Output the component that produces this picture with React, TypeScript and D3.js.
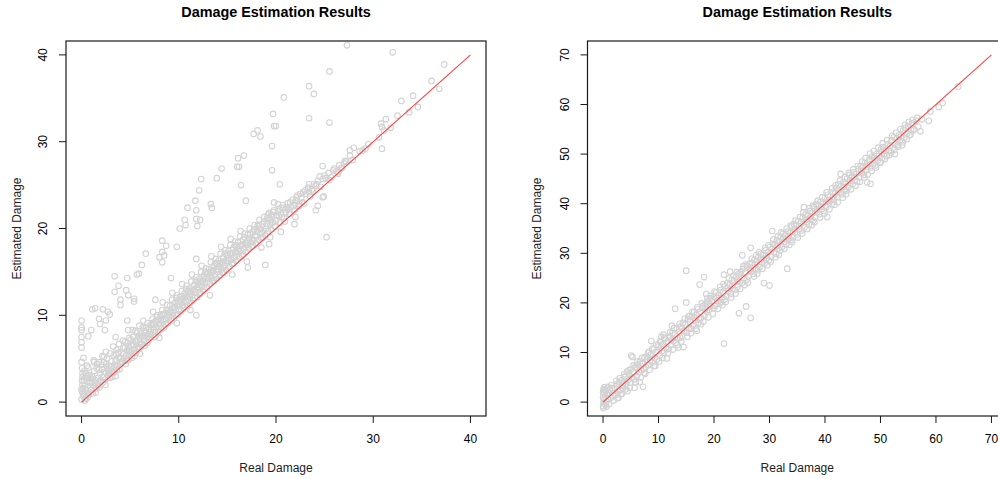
import React from "react";
import * as d3 from "d3";

const TITLE = "Damage Estimation Results";
const X_LABEL = "Real Damage";
const Y_LABEL = "Estimated Damage";

const ticksLeft = [0, 10, 20, 30, 40];
const ticksRight = [0, 10, 20, 30, 40, 50, 60, 70];
const limLeft = [0, 40];
const limRight = [0, 70];

// [real, estimated]
const bandLeft: [number, number][] = [
  [0.0,0.3],[0.05,1.2],[0.1,2.0],[0.15,0.7],[0.1,2.9],[0.3,3.6],[0.05,3.9],[0.4,1.5],[0.5,0.8],[0.6,2.4],[0.7,1.1],[0.8,3.1],[0.9,1.8],[0.35,0.2],[0.55,4.2],[0.25,2.5],[0.75,0.9],[0.95,2.7],[0.45,3.3],[0.15,1.6],[0.0,4.6],[0.2,5.1],[0.6,0.5],[0.0,1.5],[0.05,2.5],[0.3,0.9],
  [1.0,1.4],[1.1,2.9],[1.2,1.9],[1.3,3.6],[1.4,2.2],[1.5,1.6],[1.6,4.4],[1.7,2.8],[1.8,2.0],[1.9,3.3],[1.25,4.8],[1.55,3.9],[1.85,1.7],[1.05,2.3],[1.45,1.1],[1.75,3.7],
  [2.0,2.4],[2.1,3.8],[2.2,2.9],[2.3,4.6],[2.4,2.6],[2.5,3.4],[2.6,5.0],[2.7,3.1],[2.8,4.2],[2.9,2.8],[2.35,3.5],[2.65,4.0],[2.95,5.6],[2.15,5.3],[2.45,2.0],[2.75,3.6],
  [3.0,3.3],[3.1,4.7],[3.2,3.5],[3.3,5.4],[3.4,4.0],[3.5,4.8],[3.6,6.0],[3.7,4.2],[3.8,5.1],[3.9,3.8],[3.25,6.4],[3.55,5.5],[3.85,6.7],[3.45,4.3],[3.15,2.9],[3.65,3.7],
  [4.0,4.4],[4.1,5.7],[4.2,4.7],[4.3,6.2],[4.4,5.1],[4.5,7.0],[4.6,5.3],[4.7,6.0],[4.8,4.9],[4.9,7.4],[4.25,7.1],[4.55,4.4],[4.75,6.8],[4.95,5.8],[4.35,5.5],[4.85,6.4],
  [5.0,5.6],[5.1,6.5],[5.2,5.1],[5.3,7.5],[5.4,6.1],[5.5,7.0],[5.6,5.7],[5.7,8.0],[5.8,6.4],[5.9,7.6],[5.25,8.3],[5.65,6.9],[5.45,5.3],[5.95,8.8],[5.05,7.2],[5.75,7.2],
  [6.0,6.3],[6.1,7.9],[6.2,6.7],[6.3,8.6],[6.4,7.0],[6.5,6.5],[6.6,8.0],[6.7,7.5],[6.8,9.1],[6.9,7.2],[6.35,9.4],[6.75,6.8],[6.55,7.7],[6.95,8.4],[6.05,7.3],[6.45,8.2],
  [7.0,7.5],[7.1,8.9],[7.2,7.9],[7.3,9.6],[7.4,8.3],[7.5,7.5],[7.6,9.3],[7.7,8.6],[7.8,10.0],[7.9,8.1],[7.35,10.4],[7.65,7.7],[7.85,9.5],[7.15,8.4],[7.45,9.0],[7.95,9.0],
  [8.0,8.7],[8.1,9.9],[8.2,8.4],[8.3,10.6],[8.4,9.3],[8.5,8.6],[8.6,10.2],[8.7,9.5],[8.8,11.2],[8.9,9.1],[8.35,11.5],[8.65,9.0],[8.85,10.1],[8.15,9.5],[8.45,10.0],[8.95,10.6],
  [9.0,9.8],[9.1,11.1],[9.2,9.4],[9.3,11.8],[9.4,10.3],[9.5,9.7],[9.6,11.4],[9.7,10.6],[9.8,12.3],[9.9,10.1],[9.35,12.6],[9.65,10.0],[9.85,11.1],[9.15,10.5],[9.45,10.9],[9.95,11.6],
  [10.0,10.7],[10.1,12.1],[10.2,10.5],[10.3,12.8],[10.4,11.2],[10.5,10.8],[10.6,12.5],[10.7,11.6],[10.8,13.4],[10.9,11.1],[10.35,13.6],[10.65,11.0],[10.85,12.2],[10.15,11.5],[10.45,11.9],[10.95,12.7],
  [11.0,11.8],[11.1,13.1],[11.2,11.4],[11.3,13.9],[11.4,12.3],[11.5,11.7],[11.6,13.5],[11.7,12.7],[11.8,14.4],[11.9,12.1],[11.35,14.7],[11.65,12.0],[11.85,13.2],[11.15,12.5],[11.45,12.9],[11.95,13.7],
  [12.0,12.9],[12.1,14.2],[12.2,12.5],[12.3,15.0],[12.4,13.3],[12.5,12.8],[12.6,14.6],[12.7,13.7],[12.8,15.4],[12.9,13.2],[12.35,15.7],[12.65,13.0],[12.85,14.3],[12.15,13.5],[12.45,13.9],[12.95,14.8],
  [13.0,13.9],[13.1,15.3],[13.2,13.6],[13.3,16.1],[13.4,14.3],[13.5,13.9],[13.6,15.7],[13.7,14.7],[13.8,16.5],[13.9,14.2],[13.35,16.8],[13.65,14.0],[13.85,15.3],[13.15,14.5],[13.45,15.0],[13.95,15.9],
  [14.0,15.0],[14.1,16.3],[14.2,14.6],[14.3,17.1],[14.4,15.3],[14.5,14.9],[14.6,16.7],[14.7,15.7],[14.8,17.5],[14.9,15.2],[14.35,17.9],[14.65,15.0],[14.85,16.3],[14.15,15.6],[14.45,16.0],[14.95,16.9],
  [15.0,16.0],[15.1,17.4],[15.2,15.6],[15.3,18.1],[15.4,16.4],[15.5,15.9],[15.6,17.7],[15.7,16.7],[15.8,18.5],[15.9,16.3],[15.35,18.8],[15.65,16.0],[15.85,17.3],[15.15,16.6],[15.45,17.0],[15.95,17.9],
  [16.0,17.1],[16.1,18.4],[16.2,16.7],[16.3,19.1],[16.4,17.4],[16.5,16.9],[16.6,18.7],[16.7,17.7],[16.8,19.4],[16.9,17.3],[16.35,19.7],[16.65,17.0],[16.85,18.3],[16.15,17.6],[16.45,18.0],
  [17.0,18.1],[17.1,19.3],[17.2,17.7],[17.3,20.0],[17.4,18.4],[17.5,17.9],[17.6,19.6],[17.7,18.7],[17.8,20.4],[17.9,18.3],[17.65,18.0],[17.85,19.2],[17.25,18.9],
  [18.0,19.1],[18.1,20.3],[18.2,18.7],[18.3,21.0],[18.4,19.4],[18.5,18.9],[18.6,20.5],[18.7,19.7],[18.8,21.3],[18.9,19.2],[18.65,19.0],[18.35,20.0],
  [19.0,20.0],[19.1,21.2],[19.2,19.7],[19.3,21.8],[19.4,20.4],[19.5,19.9],[19.6,21.5],[19.7,20.7],[19.8,22.1],[19.9,20.2],[19.45,21.0],
  [20.0,20.9],[20.2,22.0],[20.4,20.7],[20.5,21.6],[20.7,22.7],[20.8,21.2],[20.9,20.8],[20.3,21.4],
  [21.0,21.9],[21.2,22.9],[21.4,21.7],[21.5,22.5],[21.7,23.3],[21.9,22.1],[21.3,22.2],
  [22.0,22.9],[22.2,23.8],[22.4,22.6],[22.6,23.5],[22.8,24.2],[22.9,22.9],
  [23.1,24.0],[23.3,24.7],[23.5,23.7],[23.7,24.5],[23.9,25.1],
  [24.1,24.9],[24.3,25.5],[24.6,24.8],[24.8,25.7],
  [25.1,25.8],[25.4,26.4],[25.7,25.9],[25.9,26.7],
  [26.2,26.6],[26.5,27.3],[26.8,27.0],
  [27.2,27.7],[27.6,28.4],[27.9,27.9],
  [13.2,12.3],[15.5,14.7],[9.8,9.1],[6.0,5.6],[20.5,19.6],[22.0,21.3],[24.8,23.6],[17.0,16.2],[11.2,10.6],[3.5,3.0],[8.0,7.4],[18.5,17.8]
];

const bandLeftFill: [number, number][] = [
  [0.2,0.9],[0.3,1.9],[0.45,0.4],[0.65,3.0],[0.85,2.2],[1.15,1.0],[1.35,2.6],[1.65,1.9],[1.95,2.5],[2.05,4.3],[2.25,2.3],[2.55,4.4],[2.85,3.3],[3.05,4.1],[3.35,3.4],[3.75,5.7],[3.95,4.6],[4.05,5.0],[4.45,6.3],[4.65,4.8],
  [4.9,6.0],[5.15,5.9],[5.35,6.6],[5.55,8.2],[5.85,6.1],[6.15,6.6],[6.25,7.6],[6.65,8.6],[6.85,7.7],[7.05,8.1],[7.25,9.1],[7.55,8.1],[7.75,9.8],[8.05,9.1],[8.25,10.1],[8.55,9.5],[8.75,10.6],[9.05,10.3],[9.25,10.0],[9.55,11.0],
  [9.75,12.0],[10.05,11.1],[10.25,11.8],[10.55,12.1],[10.75,13.0],[11.05,12.2],[11.25,12.8],[11.55,13.0],[11.75,14.0],[12.05,13.2],[12.25,13.9],[12.55,14.2],[12.75,15.0],[13.05,14.2],[13.25,15.0],[13.55,15.2],[13.75,16.0],[14.05,15.3],[14.25,16.0],[14.55,16.2],
  [14.75,17.1],[15.05,16.3],[15.25,17.1],[15.55,17.2],[15.75,18.1],[16.05,17.4],[16.25,18.0],[16.55,18.2],[16.75,19.0],[17.05,18.5],[17.35,19.3],[17.55,18.6],[17.75,19.9],[18.05,19.6],[18.25,20.4],[18.55,19.5],[18.75,20.8],[19.05,20.5],[19.25,21.2],[19.55,20.6],
  [19.75,21.9],[20.1,21.5],[20.35,22.3],[20.6,21.3],[20.95,22.2],[21.1,22.4],[21.45,23.0],[21.8,22.6],[22.1,23.3],[22.5,24.0],[22.7,23.0],[23.0,24.4],[23.4,24.2],[23.8,24.3],[24.2,25.1],[24.5,26.0],[25.0,26.1],[25.5,25.6],[26.0,26.9],[26.4,26.3],
  [27.0,27.5],[0.1,3.3],[0.4,2.8],[0.7,4.0]
];

const outliersLeft: [number, number][] = [
  [19.7,33.2],[19.8,31.8],[17.7,30.9],[18.1,31.3],[18.4,30.6],[19.6,29.5],[16.1,28.1],[16.7,28.4],[16.0,27.1],[16.2,27.1],
  [14.4,26.9],[13.9,25.8],[12.3,25.7],[12.1,24.4],[16.4,25.0],[19.6,26.7],[16.9,23.2],[11.7,23.2],[13.3,22.8],[13.4,22.4],
  [10.9,22.4],[11.8,22.1],[10.6,21.0],[10.7,20.4],[11.8,21.1],[12.2,21.0],[11.9,20.3],[10.1,20.0],[19.8,23.0],[19.2,21.6],[19.5,21.6],
  [27.3,41.1],[32.0,40.3],[37.3,38.9],[25.5,38.1],[36.0,37.0],[36.8,36.1],[23.4,36.4],[23.9,35.5],[20.8,35.1],[34.1,35.3],
  [32.9,34.7],[33.7,33.4],[32.5,33.0],[23.4,32.7],[25.5,32.2],[20.0,31.8],[30.8,32.1],[30.9,31.7],[31.1,31.3],[31.3,32.6],
  [31.8,31.6],[30.6,30.5],[30.9,29.2],[27.6,29.0],[28.0,29.3],[28.9,29.0],[29.2,29.2],[27.1,27.8],[24.8,27.2],[26.7,26.9],
  [26.4,26.5],[20.4,25.1],[23.4,25.1],[24.1,24.9],[24.9,23.7],[24.3,22.6],[24.1,22.1],[22.1,23.6],[22.4,22.8],[20.2,22.8],
  [20.7,22.4],[21.4,21.7],[21.9,20.5],[25.2,19.0],[8.3,18.6],[8.7,18.0],[9.8,17.9],[6.6,17.1],[8.0,16.7],[8.3,17.3],
  [8.5,16.9],[8.3,16.1],[6.2,15.8],[5.9,14.8],[5.7,14.7],[3.4,14.5],[4.7,14.3],[3.8,13.4],[3.4,12.7],[4.6,12.9],
  [4.8,12.3],[5.4,11.9],[5.4,11.6],[4.0,11.8],[4.0,11.2],[7.6,11.8],[9.2,14.3],[11.8,16.5],[1.1,10.7],[1.4,10.8],
  [2.2,10.7],[2.7,10.4],[2.9,10.1],[2.5,9.4],[1.8,9.6],[1.9,9.0],[0.0,9.4],[0.0,8.6],[0.0,8.3],[0.0,7.5],
  [0.0,6.9],[0.0,6.3],[1.0,8.3],[0.7,7.6],[2.4,8.3],[4.7,9.4],[4.8,8.3],[3.5,7.5],[2.5,5.8],[2.3,5.2],
  [1.3,4.6],[1.8,4.6],[17.1,15.5],[18.9,15.8],[19.3,18.2],[19.4,19.0],[11.8,10.0],[28.6,28.9],[29.5,29.7],[34.6,34.0]
];

const bandRight: [number, number][] = [
  [0.0,-0.8],[0.1,0.5],[0.2,1.8],[0.1,2.6],[0.3,-0.3],[0.4,1.1],[0.5,2.2],[0.6,0.2],[0.7,1.5],[0.0,1.0],[0.2,3.0],[0.8,2.9],[0.9,0.6],[1.0,1.9],[0.05,-1.2],[0.5,-0.5],[1.2,2.5],[1.4,0.9],[1.6,2.8],[1.8,1.3],[0.0,2.0],[0.1,-0.2],
  [2.1,2.9],[2.3,1.5],[2.5,3.6],[2.7,2.2],[2.9,4.0],[3.1,2.4],[3.3,4.4],[3.5,2.9],[3.7,3.9],[3.9,5.0],[2.8,0.9],[3.2,1.6],[3.6,3.3],
  [4.0,5.2],[4.2,3.7],[4.3,6.1],[4.5,4.4],[4.7,5.7],[4.9,3.9],[5.0,6.6],[5.2,5.0],[5.4,6.0],[5.6,4.6],[5.8,7.1],[5.1,9.4],[5.3,9.1],[4.4,2.2],[5.7,2.9],
  [6.0,6.9],[6.1,5.2],[6.3,7.6],[6.5,6.0],[6.7,8.2],[6.9,6.4],[7.1,7.7],[7.3,6.8],[7.5,9.0],[7.7,7.1],[7.9,8.6],[6.6,4.0],[7.2,3.1],[7.4,5.9],
  [8.0,9.1],[8.2,7.5],[8.3,10.2],[8.5,8.4],[8.7,12.3],[8.9,8.0],[9.1,10.6],[9.3,9.0],[9.5,10.1],[9.7,8.6],[9.9,11.5],[8.6,9.6],[9.4,7.3],
  [10.0,11.2],[10.2,9.4],[10.4,12.0],[10.5,13.2],[10.6,10.3],[10.8,11.7],[11.0,10.0],[11.2,12.8],[11.4,11.1],[11.6,12.2],[11.8,10.7],[11.5,8.8],[10.9,13.6],[11.9,12.9],
  [12.0,13.3],[12.2,11.5],[12.4,15.4],[12.5,13.9],[12.7,12.3],[12.9,13.7],[13.0,18.8],[13.1,11.9],[13.3,14.8],[13.5,12.8],[13.7,14.2],[13.9,13.0],[13.6,11.0],[12.3,12.6],
  [14.0,15.2],[14.2,13.3],[14.4,16.0],[14.5,11.1],[14.6,14.4],[14.8,15.6],[15.0,20.1],[15.0,26.5],[15.1,14.0],[15.3,16.7],[15.5,15.0],[15.7,16.2],[15.9,14.8],[14.3,14.9],[15.6,17.4],
  [16.0,17.3],[16.2,15.4],[16.4,18.1],[16.6,16.5],[16.8,17.6],[16.9,14.4],[17.1,18.7],[17.4,23.7],[17.3,16.8],[17.5,18.2],[17.7,17.0],[17.9,19.0],[16.5,17.0],[17.2,16.0],
  [18.0,19.4],[18.2,25.2],[18.3,17.5],[18.5,19.8],[18.6,21.8],[18.7,18.2],[18.9,20.3],[19.1,18.6],[19.3,20.9],[19.5,19.3],[19.7,20.4],[19.9,18.9],[18.4,18.8],[19.2,19.8],
  [20.0,21.2],[20.2,19.4],[20.4,22.1],[20.6,20.4],[20.8,21.6],[21.0,19.9],[21.2,22.6],[21.4,21.0],[21.6,22.0],[21.8,11.8],[21.8,25.7],[21.9,20.7],[20.5,21.0],[21.3,20.2],
  [22.0,23.4],[22.2,21.3],[22.4,24.0],[22.6,22.4],[22.8,23.7],[22.9,26.3],[23.0,21.8],[23.2,24.6],[23.4,22.9],[23.6,24.1],[23.8,22.6],[22.5,23.0],[23.3,23.5],
  [24.0,25.3],[24.2,23.2],[24.4,25.8],[24.5,17.9],[24.6,24.3],[24.8,26.2],[25.0,24.0],[25.1,29.6],[25.2,26.8],[25.4,25.0],[25.6,26.1],[25.8,19.3],[25.9,24.7],[24.3,24.5],
  [26.0,27.4],[26.2,25.3],[26.4,27.9],[26.6,17.0],[26.6,31.1],[26.7,26.4],[26.9,28.1],[27.1,25.9],[27.3,28.7],[27.5,27.0],[27.7,28.3],[27.9,26.6],[26.5,26.6],[27.4,27.8],
  [28.0,29.3],[28.2,27.2],[28.4,29.9],[28.6,28.3],[28.8,29.7],[29.0,24.0],[29.1,28.0],[29.3,30.6],[29.5,29.0],[29.7,30.2],[29.9,28.6],[30.0,23.5],[28.5,28.8],[29.4,29.5],
  [30.1,31.3],[30.3,29.3],[30.5,34.5],[30.6,31.9],[30.8,30.2],[31.0,31.7],[31.2,29.9],[31.4,32.6],[31.6,31.0],[31.8,32.2],[31.9,30.6],[30.4,30.8],[31.3,31.5],
  [32.0,33.3],[32.2,31.2],[32.4,33.9],[32.6,32.3],[32.8,33.6],[33.0,31.8],[33.2,26.9],[33.3,34.4],[33.5,33.0],[33.7,34.2],[33.9,32.7],[32.5,32.9],[33.4,33.5],
  [34.0,35.4],[34.2,33.2],[34.4,35.9],[34.6,34.3],[34.8,35.7],[35.0,33.8],[35.2,36.5],[35.4,34.9],[35.6,36.0],[35.8,34.6],[34.5,34.8],[35.3,35.5],
  [36.0,37.3],[36.2,39.3],[36.3,35.2],[36.5,37.8],[36.7,36.3],[36.9,37.6],[37.1,35.8],[37.3,38.5],[37.5,36.9],[37.7,38.0],[37.9,36.6],[36.6,36.8],[37.4,37.4],
  [38.0,39.3],[38.2,37.2],[38.4,39.9],[38.6,38.3],[38.8,39.6],[39.0,37.9],[39.2,40.4],[39.4,38.9],[39.6,40.0],[39.8,38.6],[38.5,38.7],[39.3,39.4],
  [40.0,41.2],[40.2,39.3],[40.4,37.3],[40.5,41.8],[40.7,40.3],[40.9,41.5],[41.0,40.6],[41.2,39.9],[41.4,42.4],[41.6,40.8],[41.8,42.0],[40.6,40.6],[41.5,41.3],
  [42.0,43.2],[42.2,41.3],[42.4,43.9],[42.6,42.2],[42.8,46.0],[42.9,43.5],[43.1,41.9],[43.3,44.3],[43.5,42.8],[43.7,44.0],[43.9,42.6],[42.5,42.7],[43.4,43.4],
  [44.0,45.1],[44.2,43.3],[44.4,45.8],[44.6,44.2],[44.8,45.5],[45.0,43.9],[45.2,46.3],[45.4,44.8],[45.6,46.0],[45.8,44.5],[44.5,44.6],[45.3,45.4],
  [46.0,47.0],[46.2,45.3],[46.4,47.6],[46.6,46.1],[46.8,47.3],[47.0,45.8],[47.2,48.2],[47.4,46.8],[47.6,44.3],[47.8,47.9],[46.5,46.6],[47.5,47.5],
  [48.0,48.9],[48.2,44.0],[48.3,47.3],[48.5,49.5],[48.7,48.0],[48.9,49.2],[49.1,47.7],[49.3,50.0],[49.5,48.7],[49.7,49.6],[49.9,48.4],[48.6,48.8],
  [50.1,51.0],[50.3,49.2],[50.5,51.4],[50.7,50.0],[50.9,50.8],[51.1,49.6],[51.3,52.0],[51.5,50.6],[51.7,51.6],[51.9,50.3],[50.6,50.7],
  [52.0,52.8],[52.2,51.3],[52.4,53.4],[52.6,50.0],[52.7,52.0],[52.9,53.1],[53.1,51.8],[53.3,53.8],[53.5,52.6],[53.7,53.5],[53.9,51.8],
  [54.1,54.8],[54.3,53.3],[54.5,55.3],[54.8,54.1],[55.0,55.6],[55.2,53.8],[55.5,55.0],[55.7,56.2],[55.9,54.8],
  [56.4,56.7],[56.8,55.5],[57.2,54.6],[57.5,57.0],[58.7,56.7],[59.0,58.6],[60.5,59.5],[61.2,60.3],[64.0,63.6]
];

const bandRightFill: [number, number][] = [
  [0.3,2.4],[0.6,-0.9],[0.9,3.1],[1.1,-0.4],[1.5,3.4],[1.9,0.3],[2.4,4.3],[2.6,0.8],[3.0,4.8],[3.4,1.7],[3.8,5.6],[4.1,2.6],[4.6,6.4],[4.8,2.9],[5.5,7.4],[5.9,4.0],[6.2,8.2],[6.8,5.0],[7.0,8.9],[7.6,5.7],
  [8.1,9.9],[8.4,6.5],[8.9,10.8],[9.2,7.3],[9.6,11.6],[10.1,8.2],[10.3,12.3],[10.7,8.9],[11.1,13.0],[11.7,9.9],[12.1,14.1],[12.6,10.6],[12.8,14.9],[13.4,11.5],[13.8,15.8],[14.1,12.2],[14.7,16.8],[15.2,13.2],[15.4,17.3],[15.8,13.9],
  [16.1,18.2],[16.7,14.8],[17.0,19.1],[17.6,15.7],[17.8,19.9],[18.1,16.2],[18.8,20.9],[19.0,17.1],[19.4,21.4],[19.8,17.8],[20.1,22.3],[20.7,18.8],[21.1,23.2],[21.5,19.6],[21.7,23.8],[22.1,20.2],[22.7,24.9],[23.1,21.1],[23.5,25.5],[23.9,21.9],
  [24.1,26.2],[24.7,22.8],[25.3,27.4],[25.5,23.6],[25.7,27.7],[26.1,24.1],[26.8,28.9],[27.2,25.3],[27.6,29.6],[27.8,25.9],[28.1,30.2],[28.7,26.9],[29.2,31.1],[29.6,27.6],[29.8,31.6],[30.2,28.3],[30.7,32.8],[31.1,29.2],[31.5,33.4],[31.7,29.7],
  [32.1,34.2],[32.7,30.9],[33.1,35.0],[33.6,31.7],[33.8,35.6],[34.1,32.3],[34.7,36.6],[35.1,33.2],[35.5,37.3],[35.9,34.0],[36.1,38.2],[36.8,34.9],[37.2,39.1],[37.6,35.7],[37.8,39.6],[38.1,36.3],[38.7,40.6],[39.1,37.2],[39.5,41.3],[39.9,38.0],
  [40.3,42.3],[40.8,38.9],[41.3,43.1],[41.7,39.8],[41.9,43.7],[42.3,40.3],[42.7,44.7],[43.2,41.2],[43.6,45.4],[43.8,41.9],[44.3,46.2],[44.7,42.9],[45.1,46.9],[45.5,43.6],[45.9,47.6],[46.3,44.4],[46.7,48.5],[47.1,45.3],[47.3,49.2],[47.7,45.9],
  [48.1,50.1],[48.4,46.6],[48.8,50.6],[49.2,47.3],[49.6,51.3],[50.0,48.2],[50.4,52.2],[50.8,49.0],[51.2,52.8],[51.6,49.8],[52.1,53.7],[52.5,50.9],[52.8,54.3],[53.2,51.5],[53.6,55.0],[54.0,52.4],[54.4,55.9],[54.7,53.0],[55.1,56.5],[55.4,53.9],
  [55.8,56.9],[56.1,55.0],[56.6,57.3]
];

const W = 998;
const H = 479;
const FONT = "'Liberation Sans', Arial, Helvetica, sans-serif";
const POINT_COLOR = "#d3d3d3";
const LINE_COLOR = "#ff4040";
const AXIS_COLOR = "#1a1a1a";

type PanelProps = {
  left: number;
  right: number;
  ticks: number[];
  lim: number[];
  points: [number, number][];
  yLabelX: number;
  yTickX: number;
};

function Panel({ left, right, ticks, lim, points, yLabelX, yTickX }: PanelProps) {
  const top = 41;
  const bottom = 416;
  const ext = (lim[1] - lim[0]) * 0.04;
  const x = d3.scaleLinear().domain([lim[0] - ext, lim[1] + ext]).range([left, right]);
  const y = d3.scaleLinear().domain([lim[0] - ext, lim[1] + ext]).range([bottom, top]);
  const cx = (left + right) / 2;
  const cy = (top + bottom) / 2;
  const tickLen = 7;
  return (
    <g>
      <text x={cx} y={17} textAnchor="middle" fontFamily={FONT} fontWeight="bold" fontSize={14.4} fill="#000">
        {TITLE}
      </text>
      <defs>
        <clipPath id={`clip-${left}`}>
          <rect x={left} y={top} width={right - left} height={bottom - top} />
        </clipPath>
      </defs>
      <g clipPath={`url(#clip-${left})`}>
        {points.map((p, i) => (
          <circle key={i} cx={x(p[0])} cy={y(p[1])} r={2.8} fill="none" stroke={POINT_COLOR} strokeWidth={1.1} />
        ))}
        <line x1={x(lim[0])} y1={y(lim[0])} x2={x(lim[1])} y2={y(lim[1])} stroke={LINE_COLOR} strokeWidth={1.1} />
      </g>
      <rect x={left} y={top} width={right - left} height={bottom - top} fill="none" stroke={AXIS_COLOR} strokeWidth={1.2} />
      {ticks.map((t) => (
        <g key={`x${t}`}>
          <line x1={x(t)} x2={x(t)} y1={bottom} y2={bottom + tickLen} stroke={AXIS_COLOR} strokeWidth={1} />
          <text x={x(t)} y={443} textAnchor="middle" fontFamily={FONT} fontSize={12} fill="#000">{t}</text>
        </g>
      ))}
      {ticks.map((t) => (
        <g key={`y${t}`}>
          <line x1={left - tickLen} x2={left} y1={y(t)} y2={y(t)} stroke={AXIS_COLOR} strokeWidth={1} />
          <text transform={`translate(${yTickX},${y(t)}) rotate(-90)`} dy="0.35em" textAnchor="middle" fontFamily={FONT} fontSize={12} fill="#000">{t}</text>
        </g>
      ))}
      <text x={cx} y={472} textAnchor="middle" fontFamily={FONT} fontSize={12} fill="#222">{X_LABEL}</text>
      <text transform={`translate(${yLabelX},${cy}) rotate(-90)`} dy="0.35em" textAnchor="middle" fontFamily={FONT} fontSize={12} fill="#222">{Y_LABEL}</text>
    </g>
  );
}

export default function App() {
  const leftPoints = [...bandLeft, ...bandLeftFill, ...outliersLeft];
  const rightPoints = [...bandRight, ...bandRightFill];
  return (
    <svg width={W} height={H} style={{ position: "absolute", left: 0, top: 0, background: "#fff" }}>
      <rect x={0} y={0} width={W} height={H} fill="#fff" />
      <Panel left={66} right={486} ticks={ticksLeft} lim={limLeft} points={leftPoints} yLabelX={17} yTickX={43} />
      <Panel left={587.5} right={1007} ticks={ticksRight} lim={limRight} points={rightPoints} yLabelX={537} yTickX={565} />
    </svg>
  );
}
